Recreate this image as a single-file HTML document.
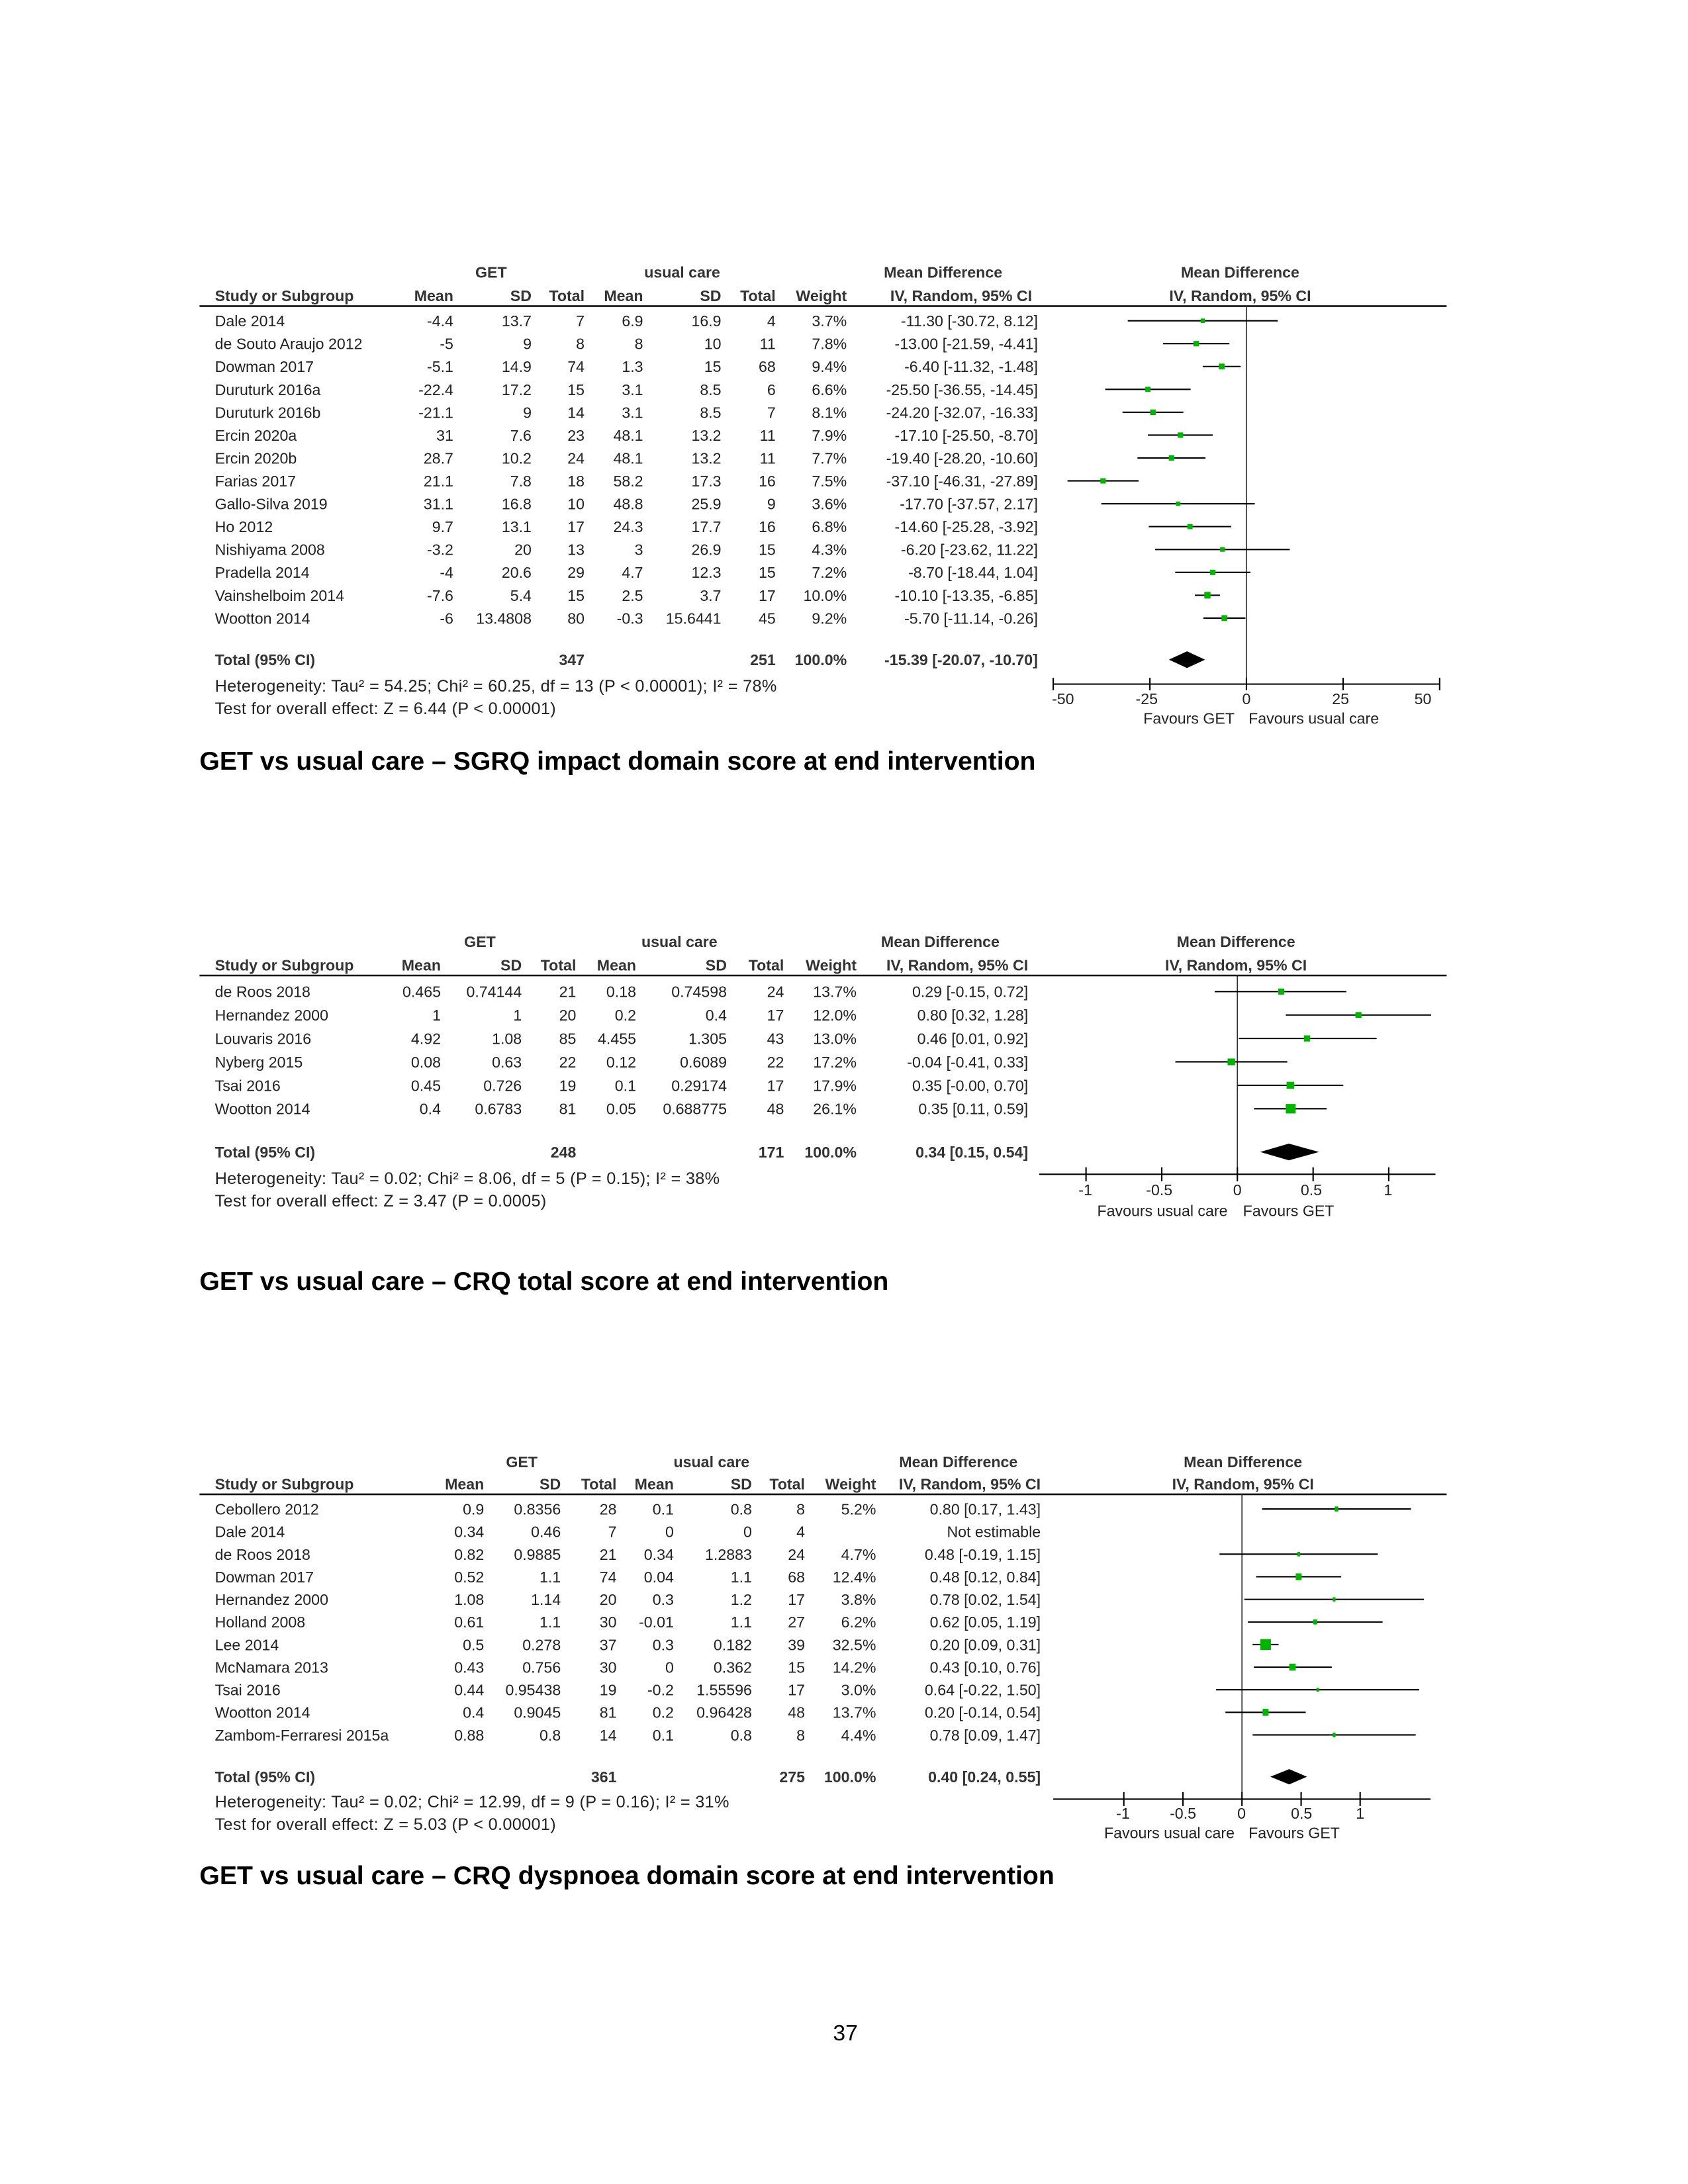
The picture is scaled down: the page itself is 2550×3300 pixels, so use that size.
<!DOCTYPE html>
<html><head><meta charset="utf-8"><style>
html,body{margin:0;padding:0;background:#fff}
svg{display:block}
text{font-family:"Liberation Sans Narrow","Liberation Sans",sans-serif;font-size:11px;fill:#222}
.h{font-weight:bold;fill:#333}
.r{text-anchor:end}
.c{text-anchor:middle}
.t{font-family:"Liberation Sans",sans-serif;font-weight:bold;font-size:18.6px;fill:#000}
.het{font-size:12px;letter-spacing:0.15px}
.sq{fill:#00b400}
</style></head><body>
<svg width="2550" height="3300" viewBox="0 0 1210 1566" xmlns="http://www.w3.org/2000/svg">

<!-- ========== PLOT 1 ========== -->
<g>
<text class="h c" x="352" y="199">GET</text>
<text class="h c" x="489" y="199">usual care</text>
<text class="h c" x="676" y="199">Mean Difference</text>
<text class="h c" x="889" y="199">Mean Difference</text>
<text class="h" x="154" y="216">Study or Subgroup</text>
<text class="h r" x="325" y="216">Mean</text>
<text class="h r" x="381" y="216">SD</text>
<text class="h r" x="419" y="216">Total</text>
<text class="h r" x="461" y="216">Mean</text>
<text class="h r" x="517" y="216">SD</text>
<text class="h r" x="556" y="216">Total</text>
<text class="h r" x="607" y="216">Weight</text>
<text class="h c" x="689" y="216">IV, Random, 95% CI</text>
<text class="h c" x="889" y="216">IV, Random, 95% CI</text>
<line x1="143" y1="219.5" x2="1037" y2="219.5" stroke="#000" stroke-width="1.2"/>

<g transform="translate(0,234)">
<text x="154" y="0">Dale 2014</text><text class="r" x="325" y="0">-4.4</text><text class="r" x="381" y="0">13.7</text><text class="r" x="419" y="0">7</text><text class="r" x="461" y="0">6.9</text><text class="r" x="517" y="0">16.9</text><text class="r" x="556" y="0">4</text><text class="r" x="607" y="0">3.7%</text><text class="r" x="744" y="0">-11.30 [-30.72, 8.12]</text>
<text x="154" y="16.4">de Souto Araujo 2012</text><text class="r" x="325" y="16.4">-5</text><text class="r" x="381" y="16.4">9</text><text class="r" x="419" y="16.4">8</text><text class="r" x="461" y="16.4">8</text><text class="r" x="517" y="16.4">10</text><text class="r" x="556" y="16.4">11</text><text class="r" x="607" y="16.4">7.8%</text><text class="r" x="744" y="16.4">-13.00 [-21.59, -4.41]</text>
<text x="154" y="32.8">Dowman 2017</text><text class="r" x="325" y="32.8">-5.1</text><text class="r" x="381" y="32.8">14.9</text><text class="r" x="419" y="32.8">74</text><text class="r" x="461" y="32.8">1.3</text><text class="r" x="517" y="32.8">15</text><text class="r" x="556" y="32.8">68</text><text class="r" x="607" y="32.8">9.4%</text><text class="r" x="744" y="32.8">-6.40 [-11.32, -1.48]</text>
<text x="154" y="49.2">Duruturk 2016a</text><text class="r" x="325" y="49.2">-22.4</text><text class="r" x="381" y="49.2">17.2</text><text class="r" x="419" y="49.2">15</text><text class="r" x="461" y="49.2">3.1</text><text class="r" x="517" y="49.2">8.5</text><text class="r" x="556" y="49.2">6</text><text class="r" x="607" y="49.2">6.6%</text><text class="r" x="744" y="49.2">-25.50 [-36.55, -14.45]</text>
<text x="154" y="65.6">Duruturk 2016b</text><text class="r" x="325" y="65.6">-21.1</text><text class="r" x="381" y="65.6">9</text><text class="r" x="419" y="65.6">14</text><text class="r" x="461" y="65.6">3.1</text><text class="r" x="517" y="65.6">8.5</text><text class="r" x="556" y="65.6">7</text><text class="r" x="607" y="65.6">8.1%</text><text class="r" x="744" y="65.6">-24.20 [-32.07, -16.33]</text>
<text x="154" y="82">Ercin 2020a</text><text class="r" x="325" y="82">31</text><text class="r" x="381" y="82">7.6</text><text class="r" x="419" y="82">23</text><text class="r" x="461" y="82">48.1</text><text class="r" x="517" y="82">13.2</text><text class="r" x="556" y="82">11</text><text class="r" x="607" y="82">7.9%</text><text class="r" x="744" y="82">-17.10 [-25.50, -8.70]</text>
<text x="154" y="98.4">Ercin 2020b</text><text class="r" x="325" y="98.4">28.7</text><text class="r" x="381" y="98.4">10.2</text><text class="r" x="419" y="98.4">24</text><text class="r" x="461" y="98.4">48.1</text><text class="r" x="517" y="98.4">13.2</text><text class="r" x="556" y="98.4">11</text><text class="r" x="607" y="98.4">7.7%</text><text class="r" x="744" y="98.4">-19.40 [-28.20, -10.60]</text>
<text x="154" y="114.8">Farias 2017</text><text class="r" x="325" y="114.8">21.1</text><text class="r" x="381" y="114.8">7.8</text><text class="r" x="419" y="114.8">18</text><text class="r" x="461" y="114.8">58.2</text><text class="r" x="517" y="114.8">17.3</text><text class="r" x="556" y="114.8">16</text><text class="r" x="607" y="114.8">7.5%</text><text class="r" x="744" y="114.8">-37.10 [-46.31, -27.89]</text>
<text x="154" y="131.2">Gallo-Silva 2019</text><text class="r" x="325" y="131.2">31.1</text><text class="r" x="381" y="131.2">16.8</text><text class="r" x="419" y="131.2">10</text><text class="r" x="461" y="131.2">48.8</text><text class="r" x="517" y="131.2">25.9</text><text class="r" x="556" y="131.2">9</text><text class="r" x="607" y="131.2">3.6%</text><text class="r" x="744" y="131.2">-17.70 [-37.57, 2.17]</text>
<text x="154" y="147.6">Ho 2012</text><text class="r" x="325" y="147.6">9.7</text><text class="r" x="381" y="147.6">13.1</text><text class="r" x="419" y="147.6">17</text><text class="r" x="461" y="147.6">24.3</text><text class="r" x="517" y="147.6">17.7</text><text class="r" x="556" y="147.6">16</text><text class="r" x="607" y="147.6">6.8%</text><text class="r" x="744" y="147.6">-14.60 [-25.28, -3.92]</text>
<text x="154" y="164">Nishiyama 2008</text><text class="r" x="325" y="164">-3.2</text><text class="r" x="381" y="164">20</text><text class="r" x="419" y="164">13</text><text class="r" x="461" y="164">3</text><text class="r" x="517" y="164">26.9</text><text class="r" x="556" y="164">15</text><text class="r" x="607" y="164">4.3%</text><text class="r" x="744" y="164">-6.20 [-23.62, 11.22]</text>
<text x="154" y="180.4">Pradella 2014</text><text class="r" x="325" y="180.4">-4</text><text class="r" x="381" y="180.4">20.6</text><text class="r" x="419" y="180.4">29</text><text class="r" x="461" y="180.4">4.7</text><text class="r" x="517" y="180.4">12.3</text><text class="r" x="556" y="180.4">15</text><text class="r" x="607" y="180.4">7.2%</text><text class="r" x="744" y="180.4">-8.70 [-18.44, 1.04]</text>
<text x="154" y="196.8">Vainshelboim 2014</text><text class="r" x="325" y="196.8">-7.6</text><text class="r" x="381" y="196.8">5.4</text><text class="r" x="419" y="196.8">15</text><text class="r" x="461" y="196.8">2.5</text><text class="r" x="517" y="196.8">3.7</text><text class="r" x="556" y="196.8">17</text><text class="r" x="607" y="196.8">10.0%</text><text class="r" x="744" y="196.8">-10.10 [-13.35, -6.85]</text>
<text x="154" y="213.2">Wootton 2014</text><text class="r" x="325" y="213.2">-6</text><text class="r" x="381" y="213.2">13.4808</text><text class="r" x="419" y="213.2">80</text><text class="r" x="461" y="213.2">-0.3</text><text class="r" x="517" y="213.2">15.6441</text><text class="r" x="556" y="213.2">45</text><text class="r" x="607" y="213.2">9.2%</text><text class="r" x="744" y="213.2">-5.70 [-11.14, -0.26]</text>
</g>
<text class="h" x="154" y="477">Total (95% CI)</text><text class="h r" x="419" y="477">347</text><text class="h r" x="556" y="477">251</text><text class="h r" x="607" y="477">100.0%</text><text class="h r" x="744" y="477">-15.39 [-20.07, -10.70]</text>
<text class="het" x="154" y="496">Heterogeneity: Tau² = 54.25; Chi² = 60.25, df = 13 (P &lt; 0.00001); I² = 78%</text>
<text class="het" x="154" y="512">Test for overall effect: Z = 6.44 (P &lt; 0.00001)</text>

<line x1="893.5" y1="219.5" x2="893.5" y2="491" stroke="#333" stroke-width="0.8"/>
<g transform="translate(893.5,0) scale(2.77,1)" stroke="#000" stroke-width="1">
<line x1="-30.72" y1="230" x2="8.12" y2="230"/>
<line x1="-21.59" y1="246.4" x2="-4.41" y2="246.4"/>
<line x1="-11.32" y1="262.8" x2="-1.48" y2="262.8"/>
<line x1="-36.55" y1="279.2" x2="-14.45" y2="279.2"/>
<line x1="-32.07" y1="295.6" x2="-16.33" y2="295.6"/>
<line x1="-25.5" y1="312" x2="-8.7" y2="312"/>
<line x1="-28.2" y1="328.4" x2="-10.6" y2="328.4"/>
<line x1="-46.31" y1="344.8" x2="-27.89" y2="344.8"/>
<line x1="-37.57" y1="361.2" x2="2.17" y2="361.2"/>
<line x1="-25.28" y1="377.6" x2="-3.92" y2="377.6"/>
<line x1="-23.62" y1="394" x2="11.22" y2="394"/>
<line x1="-18.44" y1="410.4" x2="1.04" y2="410.4"/>
<line x1="-13.35" y1="426.8" x2="-6.85" y2="426.8"/>
<line x1="-11.14" y1="443.2" x2="-0.26" y2="443.2"/>
<g class="sq" stroke="none">
<rect x="-11.85" y="228.4" width="1.1" height="3.2"/>
<rect x="-13.7" y="244.45" width="1.4" height="3.9"/>
<rect x="-7.15" y="260.7" width="1.5" height="4.2"/>
<rect x="-26.17" y="277.35" width="1.34" height="3.7"/>
<rect x="-24.92" y="293.6" width="1.44" height="4"/>
<rect x="-17.8" y="310.05" width="1.4" height="3.9"/>
<rect x="-20.1" y="326.45" width="1.4" height="3.9"/>
<rect x="-37.8" y="342.9" width="1.4" height="3.8"/>
<rect x="-18.25" y="359.6" width="1.1" height="3.2"/>
<rect x="-15.27" y="375.75" width="1.34" height="3.7"/>
<rect x="-6.8" y="392.35" width="1.2" height="3.3"/>
<rect x="-9.4" y="408.5" width="1.4" height="3.8"/>
<rect x="-10.9" y="424.4" width="1.6" height="4.8"/>
<rect x="-6.45" y="441.1" width="1.5" height="4.2"/>
</g>
<polygon points="-20.07,473 -15.39,467 -10.7,473 -15.39,479" fill="#000" stroke="none"/>
</g>
<g stroke="#000" stroke-width="1">
<line x1="755" y1="490.5" x2="1032" y2="490.5"/>
<line x1="755" y1="486" x2="755" y2="495"/><line x1="824.3" y1="486" x2="824.3" y2="495"/><line x1="893.5" y1="486" x2="893.5" y2="495"/><line x1="962.8" y1="486" x2="962.8" y2="495"/><line x1="1032" y1="486" x2="1032" y2="495"/>
</g>
<text class="c" x="762" y="505">-50</text><text class="c" x="822" y="505">-25</text><text class="c" x="893.5" y="505">0</text><text class="c" x="961" y="505">25</text><text class="c" x="1020" y="505">50</text>
<text class="r" x="885" y="519">Favours GET</text><text x="895" y="519">Favours usual care</text>
<text class="t" x="143" y="552">GET vs usual care – SGRQ impact domain score at end intervention</text>
</g>

<!-- ========== PLOT 2 ========== -->
<g>
<text class="h c" x="344" y="679">GET</text>
<text class="h c" x="487" y="679">usual care</text>
<text class="h c" x="674" y="679">Mean Difference</text>
<text class="h c" x="886" y="679">Mean Difference</text>
<text class="h" x="154" y="696">Study or Subgroup</text>
<text class="h r" x="316" y="696">Mean</text>
<text class="h r" x="374" y="696">SD</text>
<text class="h r" x="413" y="696">Total</text>
<text class="h r" x="456" y="696">Mean</text>
<text class="h r" x="521" y="696">SD</text>
<text class="h r" x="562" y="696">Total</text>
<text class="h r" x="614" y="696">Weight</text>
<text class="h r" x="737" y="696">IV, Random, 95% CI</text>
<text class="h c" x="886" y="696">IV, Random, 95% CI</text>
<line x1="143" y1="699.5" x2="1037" y2="699.5" stroke="#000" stroke-width="1.2"/>

<g transform="translate(0,715)">
<text x="154" y="0">de Roos 2018</text><text class="r" x="316" y="0">0.465</text><text class="r" x="374" y="0">0.74144</text><text class="r" x="413" y="0">21</text><text class="r" x="456" y="0">0.18</text><text class="r" x="521" y="0">0.74598</text><text class="r" x="562" y="0">24</text><text class="r" x="614" y="0">13.7%</text><text class="r" x="737" y="0">0.29 [-0.15, 0.72]</text>
<text x="154" y="16.8">Hernandez 2000</text><text class="r" x="316" y="16.8">1</text><text class="r" x="374" y="16.8">1</text><text class="r" x="413" y="16.8">20</text><text class="r" x="456" y="16.8">0.2</text><text class="r" x="521" y="16.8">0.4</text><text class="r" x="562" y="16.8">17</text><text class="r" x="614" y="16.8">12.0%</text><text class="r" x="737" y="16.8">0.80 [0.32, 1.28]</text>
<text x="154" y="33.6">Louvaris 2016</text><text class="r" x="316" y="33.6">4.92</text><text class="r" x="374" y="33.6">1.08</text><text class="r" x="413" y="33.6">85</text><text class="r" x="456" y="33.6">4.455</text><text class="r" x="521" y="33.6">1.305</text><text class="r" x="562" y="33.6">43</text><text class="r" x="614" y="33.6">13.0%</text><text class="r" x="737" y="33.6">0.46 [0.01, 0.92]</text>
<text x="154" y="50.4">Nyberg 2015</text><text class="r" x="316" y="50.4">0.08</text><text class="r" x="374" y="50.4">0.63</text><text class="r" x="413" y="50.4">22</text><text class="r" x="456" y="50.4">0.12</text><text class="r" x="521" y="50.4">0.6089</text><text class="r" x="562" y="50.4">22</text><text class="r" x="614" y="50.4">17.2%</text><text class="r" x="737" y="50.4">-0.04 [-0.41, 0.33]</text>
<text x="154" y="67.2">Tsai 2016</text><text class="r" x="316" y="67.2">0.45</text><text class="r" x="374" y="67.2">0.726</text><text class="r" x="413" y="67.2">19</text><text class="r" x="456" y="67.2">0.1</text><text class="r" x="521" y="67.2">0.29174</text><text class="r" x="562" y="67.2">17</text><text class="r" x="614" y="67.2">17.9%</text><text class="r" x="737" y="67.2">0.35 [-0.00, 0.70]</text>
<text x="154" y="84">Wootton 2014</text><text class="r" x="316" y="84">0.4</text><text class="r" x="374" y="84">0.6783</text><text class="r" x="413" y="84">81</text><text class="r" x="456" y="84">0.05</text><text class="r" x="521" y="84">0.688775</text><text class="r" x="562" y="84">48</text><text class="r" x="614" y="84">26.1%</text><text class="r" x="737" y="84">0.35 [0.11, 0.59]</text>
</g>
<text class="h" x="154" y="830">Total (95% CI)</text><text class="h r" x="413" y="830">248</text><text class="h r" x="562" y="830">171</text><text class="h r" x="614" y="830">100.0%</text><text class="h r" x="737" y="830">0.34 [0.15, 0.54]</text>
<text class="het" x="154" y="849">Heterogeneity: Tau² = 0.02; Chi² = 8.06, df = 5 (P = 0.15); I² = 38%</text>
<text class="het" x="154" y="865">Test for overall effect: Z = 3.47 (P = 0.0005)</text>

<line x1="887" y1="699.5" x2="887" y2="842" stroke="#333" stroke-width="0.8"/>
<g transform="translate(887,0) scale(108.5,1)" stroke="#000" stroke-width="1">
<line x1="-0.15" y1="711" x2="0.72" y2="711"/>
<line x1="0.32" y1="727.8" x2="1.28" y2="727.8"/>
<line x1="0.01" y1="744.6" x2="0.92" y2="744.6"/>
<line x1="-0.41" y1="761.4" x2="0.33" y2="761.4"/>
<line x1="-0.00" y1="778.2" x2="0.70" y2="778.2"/>
<line x1="0.11" y1="795" x2="0.59" y2="795"/>
<g class="sq" stroke="none">
<rect x="0.27" y="708.8" width="0.04" height="4.4"/>
<rect x="0.78" y="725.7" width="0.04" height="4.2"/>
<rect x="0.44" y="742.4" width="0.04" height="4.4"/>
<rect x="-0.065" y="759" width="0.05" height="4.8"/>
<rect x="0.325" y="775.7" width="0.05" height="5"/>
<rect x="0.32" y="791.6" width="0.065" height="6.8"/>
</g>
<polygon points="0.15,826 0.34,820 0.54,826 0.34,832" fill="#000" stroke="none"/>
</g>
<g stroke="#000" stroke-width="1">
<line x1="745" y1="842" x2="1029" y2="842"/>
<line x1="778.5" y1="837" x2="778.5" y2="847"/><line x1="832.8" y1="837" x2="832.8" y2="847"/><line x1="887" y1="837" x2="887" y2="847"/><line x1="941.3" y1="837" x2="941.3" y2="847"/><line x1="995.5" y1="837" x2="995.5" y2="847"/>
</g>
<text class="c" x="778" y="857">-1</text><text class="c" x="831" y="857">-0.5</text><text class="c" x="887" y="857">0</text><text class="c" x="940" y="857">0.5</text><text class="c" x="995" y="857">1</text>
<text class="r" x="880" y="872">Favours usual care</text><text x="891" y="872">Favours GET</text>
<text class="t" x="143" y="925">GET vs usual care – CRQ total score at end intervention</text>
</g>

<!-- ========== PLOT 3 ========== -->
<g>
<text class="h c" x="374" y="1052">GET</text>
<text class="h c" x="510" y="1052">usual care</text>
<text class="h c" x="687" y="1052">Mean Difference</text>
<text class="h c" x="891" y="1052">Mean Difference</text>
<text class="h" x="154" y="1068">Study or Subgroup</text>
<text class="h r" x="347" y="1068">Mean</text>
<text class="h r" x="402" y="1068">SD</text>
<text class="h r" x="442" y="1068">Total</text>
<text class="h r" x="483" y="1068">Mean</text>
<text class="h r" x="539" y="1068">SD</text>
<text class="h r" x="577" y="1068">Total</text>
<text class="h r" x="628" y="1068">Weight</text>
<text class="h r" x="746" y="1068">IV, Random, 95% CI</text>
<text class="h c" x="891" y="1068">IV, Random, 95% CI</text>
<line x1="143" y1="1071.5" x2="1037" y2="1071.5" stroke="#000" stroke-width="1.2"/>

<g transform="translate(0,1086)">
<text x="154" y="0">Cebollero 2012</text><text class="r" x="347" y="0">0.9</text><text class="r" x="402" y="0">0.8356</text><text class="r" x="442" y="0">28</text><text class="r" x="483" y="0">0.1</text><text class="r" x="539" y="0">0.8</text><text class="r" x="577" y="0">8</text><text class="r" x="628" y="0">5.2%</text><text class="r" x="746" y="0">0.80 [0.17, 1.43]</text>
<text x="154" y="16.2">Dale 2014</text><text class="r" x="347" y="16.2">0.34</text><text class="r" x="402" y="16.2">0.46</text><text class="r" x="442" y="16.2">7</text><text class="r" x="483" y="16.2">0</text><text class="r" x="539" y="16.2">0</text><text class="r" x="577" y="16.2">4</text><text class="r" x="746" y="16.2">Not estimable</text>
<text x="154" y="32.4">de Roos 2018</text><text class="r" x="347" y="32.4">0.82</text><text class="r" x="402" y="32.4">0.9885</text><text class="r" x="442" y="32.4">21</text><text class="r" x="483" y="32.4">0.34</text><text class="r" x="539" y="32.4">1.2883</text><text class="r" x="577" y="32.4">24</text><text class="r" x="628" y="32.4">4.7%</text><text class="r" x="746" y="32.4">0.48 [-0.19, 1.15]</text>
<text x="154" y="48.6">Dowman 2017</text><text class="r" x="347" y="48.6">0.52</text><text class="r" x="402" y="48.6">1.1</text><text class="r" x="442" y="48.6">74</text><text class="r" x="483" y="48.6">0.04</text><text class="r" x="539" y="48.6">1.1</text><text class="r" x="577" y="48.6">68</text><text class="r" x="628" y="48.6">12.4%</text><text class="r" x="746" y="48.6">0.48 [0.12, 0.84]</text>
<text x="154" y="64.8">Hernandez 2000</text><text class="r" x="347" y="64.8">1.08</text><text class="r" x="402" y="64.8">1.14</text><text class="r" x="442" y="64.8">20</text><text class="r" x="483" y="64.8">0.3</text><text class="r" x="539" y="64.8">1.2</text><text class="r" x="577" y="64.8">17</text><text class="r" x="628" y="64.8">3.8%</text><text class="r" x="746" y="64.8">0.78 [0.02, 1.54]</text>
<text x="154" y="81">Holland 2008</text><text class="r" x="347" y="81">0.61</text><text class="r" x="402" y="81">1.1</text><text class="r" x="442" y="81">30</text><text class="r" x="483" y="81">-0.01</text><text class="r" x="539" y="81">1.1</text><text class="r" x="577" y="81">27</text><text class="r" x="628" y="81">6.2%</text><text class="r" x="746" y="81">0.62 [0.05, 1.19]</text>
<text x="154" y="97.2">Lee 2014</text><text class="r" x="347" y="97.2">0.5</text><text class="r" x="402" y="97.2">0.278</text><text class="r" x="442" y="97.2">37</text><text class="r" x="483" y="97.2">0.3</text><text class="r" x="539" y="97.2">0.182</text><text class="r" x="577" y="97.2">39</text><text class="r" x="628" y="97.2">32.5%</text><text class="r" x="746" y="97.2">0.20 [0.09, 0.31]</text>
<text x="154" y="113.4">McNamara 2013</text><text class="r" x="347" y="113.4">0.43</text><text class="r" x="402" y="113.4">0.756</text><text class="r" x="442" y="113.4">30</text><text class="r" x="483" y="113.4">0</text><text class="r" x="539" y="113.4">0.362</text><text class="r" x="577" y="113.4">15</text><text class="r" x="628" y="113.4">14.2%</text><text class="r" x="746" y="113.4">0.43 [0.10, 0.76]</text>
<text x="154" y="129.6">Tsai 2016</text><text class="r" x="347" y="129.6">0.44</text><text class="r" x="402" y="129.6">0.95438</text><text class="r" x="442" y="129.6">19</text><text class="r" x="483" y="129.6">-0.2</text><text class="r" x="539" y="129.6">1.55596</text><text class="r" x="577" y="129.6">17</text><text class="r" x="628" y="129.6">3.0%</text><text class="r" x="746" y="129.6">0.64 [-0.22, 1.50]</text>
<text x="154" y="145.8">Wootton 2014</text><text class="r" x="347" y="145.8">0.4</text><text class="r" x="402" y="145.8">0.9045</text><text class="r" x="442" y="145.8">81</text><text class="r" x="483" y="145.8">0.2</text><text class="r" x="539" y="145.8">0.96428</text><text class="r" x="577" y="145.8">48</text><text class="r" x="628" y="145.8">13.7%</text><text class="r" x="746" y="145.8">0.20 [-0.14, 0.54]</text>
<text x="154" y="162">Zambom-Ferraresi 2015a</text><text class="r" x="347" y="162">0.88</text><text class="r" x="402" y="162">0.8</text><text class="r" x="442" y="162">14</text><text class="r" x="483" y="162">0.1</text><text class="r" x="539" y="162">0.8</text><text class="r" x="577" y="162">8</text><text class="r" x="628" y="162">4.4%</text><text class="r" x="746" y="162">0.78 [0.09, 1.47]</text>
</g>
<text class="h" x="154" y="1278">Total (95% CI)</text><text class="h r" x="442" y="1278">361</text><text class="h r" x="577" y="1278">275</text><text class="h r" x="628" y="1278">100.0%</text><text class="h r" x="746" y="1278">0.40 [0.24, 0.55]</text>
<text class="het" x="154" y="1296">Heterogeneity: Tau² = 0.02; Chi² = 12.99, df = 9 (P = 0.16); I² = 31%</text>
<text class="het" x="154" y="1312">Test for overall effect: Z = 5.03 (P &lt; 0.00001)</text>

<line x1="890.3" y1="1071.5" x2="890.3" y2="1290" stroke="#333" stroke-width="0.8"/>
<g transform="translate(890.3,0) scale(84.7,1)" stroke="#000" stroke-width="1">
<line x1="0.17" y1="1082" x2="1.43" y2="1082"/>
<line x1="-0.19" y1="1114.4" x2="1.15" y2="1114.4"/>
<line x1="0.12" y1="1130.6" x2="0.84" y2="1130.6"/>
<line x1="0.02" y1="1146.8" x2="1.54" y2="1146.8"/>
<line x1="0.05" y1="1163" x2="1.19" y2="1163"/>
<line x1="0.09" y1="1179.2" x2="0.31" y2="1179.2"/>
<line x1="0.10" y1="1195.4" x2="0.76" y2="1195.4"/>
<line x1="-0.22" y1="1211.6" x2="1.50" y2="1211.6"/>
<line x1="-0.14" y1="1227.8" x2="0.54" y2="1227.8"/>
<line x1="0.09" y1="1244" x2="1.47" y2="1244"/>
<g class="sq" stroke="none">
<rect x="0.785" y="1080.2" width="0.03" height="3.6"/>
<rect x="0.468" y="1112.8" width="0.024" height="3.2"/>
<rect x="0.455" y="1128.2" width="0.05" height="4.8"/>
<rect x="0.768" y="1145.3" width="0.024" height="3"/>
<rect x="0.603" y="1161.2" width="0.034" height="3.6"/>
<rect x="0.155" y="1175.3" width="0.09" height="7.8"/>
<rect x="0.4" y="1192.9" width="0.055" height="5"/>
<rect x="0.63" y="1210.2" width="0.022" height="2.8"/>
<rect x="0.175" y="1225.3" width="0.05" height="5"/>
<rect x="0.768" y="1242.3" width="0.024" height="3.4"/>
</g>
<polygon points="0.24,1274 0.40,1268.5 0.55,1274 0.40,1279.5" fill="#000" stroke="none"/>
</g>
<g stroke="#000" stroke-width="1">
<line x1="755" y1="1290" x2="1025.5" y2="1290"/>
<line x1="805.6" y1="1285" x2="805.6" y2="1295"/><line x1="848" y1="1285" x2="848" y2="1295"/><line x1="890.3" y1="1285" x2="890.3" y2="1295"/><line x1="932.7" y1="1285" x2="932.7" y2="1295"/><line x1="975" y1="1285" x2="975" y2="1295"/>
</g>
<text class="c" x="805" y="1304">-1</text><text class="c" x="848" y="1304">-0.5</text><text class="c" x="890" y="1304">0</text><text class="c" x="933" y="1304">0.5</text><text class="c" x="975" y="1304">1</text>
<text class="r" x="885" y="1318">Favours usual care</text><text x="895" y="1318">Favours GET</text>
<text class="t" x="143" y="1351">GET vs usual care – CRQ dyspnoea domain score at end intervention</text>
</g>

<text x="606" y="1463" text-anchor="middle" style="font-family:'Liberation Sans',sans-serif;font-size:16px;fill:#000">37</text>
</svg>
</body></html>
